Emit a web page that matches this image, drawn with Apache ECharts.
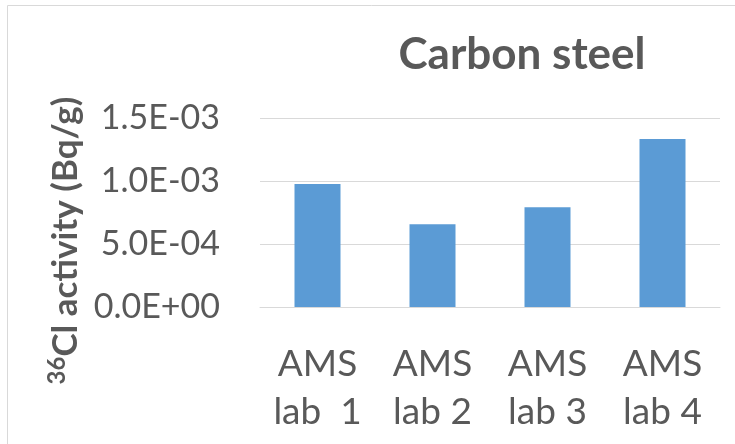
<!DOCTYPE html>
<html>
<head>
<meta charset="utf-8">
<script src="https://cdn.jsdelivr.net/npm/echarts@6/dist/echarts.min.js"></script>
<style>
  html, body { margin: 0; padding: 0; background: #fff; }
  #chart { width: 735px; height: 444px; }
</style>
</head>
<body>
<div id="chart"></div>
<script>
  const categories = ['AMS\nlab  1', 'AMS\nlab 2', 'AMS\nlab 3', 'AMS\nlab 4'];
  const activity = [9.76e-4, 6.57e-4, 7.92e-4, 1.333e-3];
  const yTickLabels = ['0.0E+00', '5.0E-04', '1.0E-03', '1.5E-03'];
  const yStep = 5e-4;

  const font = 'Lato, "Open Sans", sans-serif';
  const textColor = '#595959';
  const lineColor = '#D9D9D9';

  const chart = echarts.init(document.getElementById('chart'));
  chart.setOption({
    animation: false,
    title: {
      text: 'Carbon steel',
      left: 522,
      top: 33,
      padding: 0,
      textAlign: 'center',
      textStyle: { fontFamily: font, fontSize: 44, fontWeight: 'bold', color: textColor }
    },
    graphic: [{
      type: 'rect',
      shape: { x: 7.5, y: 5.5, width: 800, height: 500 },
      style: { fill: 'none', stroke: lineColor, lineWidth: 1 },
      silent: true
    }],
    grid: { left: 260, right: 15, top: 118, bottom: 137 },
    xAxis: {
      type: 'category',
      data: categories,
      axisLine: { lineStyle: { color: lineColor, width: 1 } },
      axisTick: { show: false },
      axisLabel: {
        fontFamily: font, fontSize: 37, color: textColor,
        lineHeight: 48, margin: 33
      }
    },
    yAxis: {
      type: 'value',
      min: 0,
      max: 1.5e-3,
      interval: yStep,
      name: '{sup|36}{b|Cl activity (Bq/g)}',
      nameLocation: 'middle',
      nameGap: 164,
      nameTextStyle: {
        padding: [0, 56, 0, 0],
        rich: {
          sup: { fontFamily: font, fontSize: 24, fontWeight: 'bold', color: textColor, verticalAlign: 'top', lineHeight: 41 },
          b: { fontFamily: font, fontSize: 35, fontWeight: 'bold', color: textColor, lineHeight: 41 }
        }
      },
      axisLine: { show: false },
      axisTick: { show: false },
      splitLine: { lineStyle: { color: lineColor, width: 1 } },
      axisLabel: {
        fontFamily: font, fontSize: 34, color: textColor, margin: 40,
        formatter: v => yTickLabels[Math.round(v / yStep)]
      }
    },
    series: [{
      type: 'bar',
      data: activity,
      barWidth: '40%',
      itemStyle: { color: '#5B9BD5' }
    }]
  });
</script>
</body>
</html>
